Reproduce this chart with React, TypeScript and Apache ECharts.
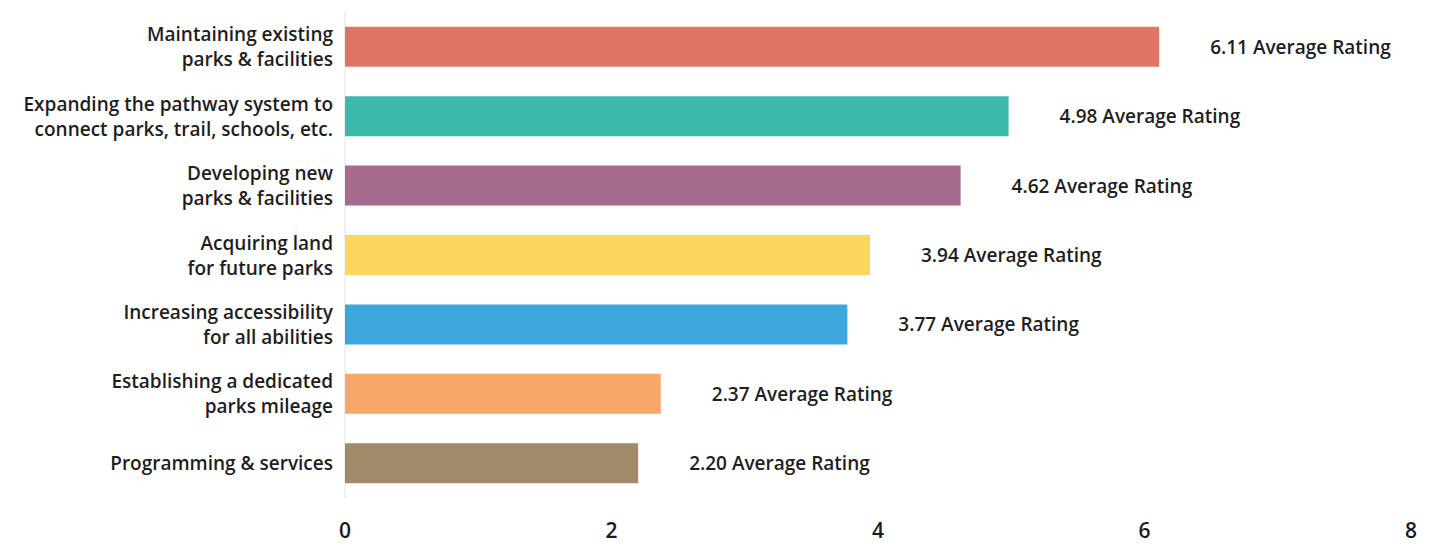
import React, { useEffect, useRef } from "react";
import * as echarts from "echarts";

const categories = [
  "Maintaining existing\nparks & facilities",
  "Expanding the pathway system to\nconnect parks, trail, schools, etc.",
  "Developing new\nparks & facilities",
  "Acquiring land\nfor future parks",
  "Increasing accessibility\nfor all abilities",
  "Establishing a dedicated\nparks mileage",
  "Programming & services",
];
const ratings = [6.11, 4.98, 4.62, 3.94, 3.77, 2.37, 2.2];
const barColors = ["#E17564", "#3EBAAD", "#A76B8E", "#FBD75E", "#3EA6DB", "#F6A86A", "#A2896A"];
const xTicks = [0, 2, 4, 6, 8];

export default function App() {
  const ref = useRef<HTMLDivElement>(null);
  useEffect(() => {
    const chart = echarts.init(ref.current!, null, { renderer: "svg" });
    chart.setOption({
      animation: false,
      backgroundColor: "#ffffff",
      grid: { left: 345, right: 19, top: 12, bottom: 48, containLabel: false },
      xAxis: {
        type: "value",
        min: xTicks[0],
        max: xTicks[xTicks.length - 1],
        interval: 2,
        splitLine: { show: false },
        axisLine: { show: false },
        axisTick: { show: false },
        axisLabel: {
          margin: 21,
          fontFamily: "Open Sans",
          fontSize: 21,
          lineHeight: 22,
          fontWeight: 600,
          color: "#1a1a1a",
        },
      },
      yAxis: {
        type: "category",
        inverse: true,
        data: categories,
        axisLine: { show: true, lineStyle: { color: "#f1f1f1", width: 2 } },
        axisTick: { show: false },
        axisLabel: {
          margin: 12,
          fontFamily: "Open Sans",
          fontSize: 19,
          fontWeight: 600,
          lineHeight: 25,
          color: "#1e1e1e",
          align: "right",
        },
      },
      series: [
        {
          type: "bar",
          barWidth: 40,
          data: ratings.map((v, i) => ({ value: v, itemStyle: { color: barColors[i] } })),
          label: {
            show: true,
            position: "right",
            distance: 51,
            fontFamily: "Open Sans",
            fontSize: 19,
            fontWeight: 600,
            color: "#1e1e1e",
            formatter: (p: any) => `${Number(p.value).toFixed(2)} Average Rating`,
          },
        },
      ],
    });
    return () => chart.dispose();
  }, []);
  return <div ref={ref} style={{ width: 1430, height: 546, position: "absolute", left: 0, top: 0 }} />;
}
